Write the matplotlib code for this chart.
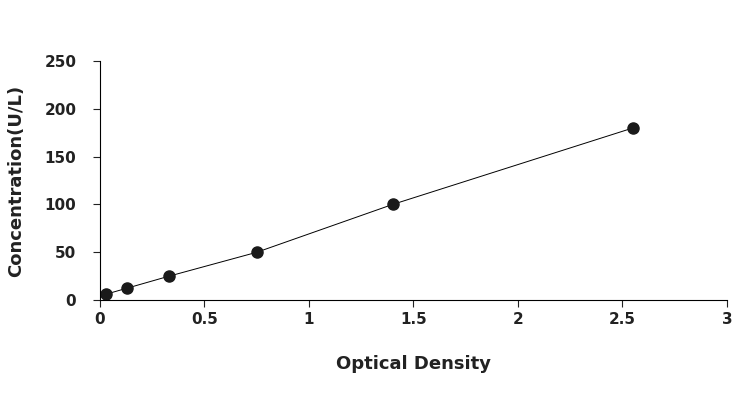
import matplotlib
matplotlib.use("Agg")
import matplotlib.pyplot as plt

od = [0.03, 0.13, 0.33, 0.75, 1.40, 2.55]
conc = [6.25, 12.5, 25, 50, 100, 180]
xticks = [0, 0.5, 1, 1.5, 2, 2.5, 3]
xlabels = ["0", "0.5", "1", "1.5", "2", "2.5", "3"]
yticks = [0, 50, 100, 150, 200, 250]

fig = plt.figure(figsize=(7.51, 4.18), dpi=100)
ax = fig.add_axes([0.133, 0.282, 0.835, 0.572])
ax.plot(od, conc, color="black", lw=0.7, marker="o", ms=8, mfc="#1a1a1a", mec="#1a1a1a")
ax.set_xlim(0, 3)
ax.set_ylim(0, 250)
ax.set_xticks(xticks)
ax.set_xticklabels(xlabels)
ax.set_yticks(yticks)
for s in ["top", "right"]:
    ax.spines[s].set_visible(False)
ax.tick_params(direction="out", length=5, labelsize=11, colors="#222222")
ax.tick_params(axis="y", pad=12)
for lab in ax.get_xticklabels() + ax.get_yticklabels():
    lab.set_fontweight("bold")
ax.set_xlabel("Optical Density", fontsize=13, fontweight="bold", labelpad=20, color="#222222")
ax.set_ylabel("Concentration(U/L)", fontsize=13, fontweight="bold", labelpad=14, color="#222222")
fig.savefig("out.png", dpi=100)
